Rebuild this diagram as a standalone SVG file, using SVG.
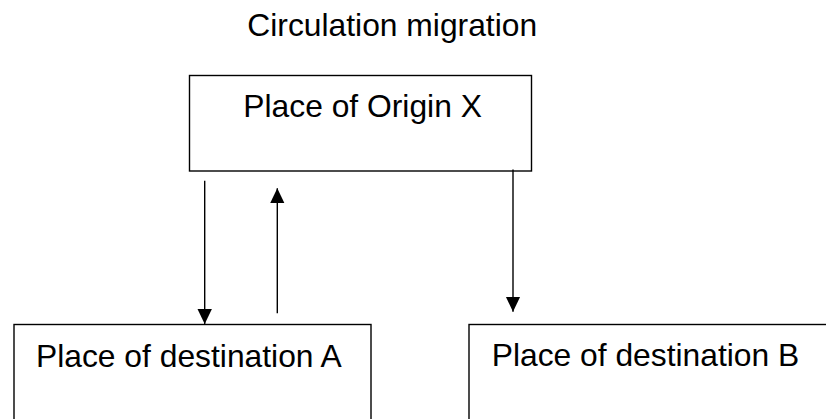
<svg xmlns="http://www.w3.org/2000/svg" width="826" height="419" viewBox="0 0 826 419">
  <style>
    .box { fill: #ffffff; stroke: #000000; stroke-width: 1.4; }
    .lbl { font-family: "Liberation Sans", Arial, sans-serif; font-size: 31.8px; fill: #000000; }
    .conn { stroke: #000000; stroke-width: 1.4; fill: none; }
  </style>
  <defs>
    <marker id="arrow" markerUnits="userSpaceOnUse" markerWidth="16" markerHeight="16" viewBox="0 0 16 16" refX="15" refY="8" orient="auto">
      <polygon points="0,0.8 15,8 0,15.2" fill="#000000"/>
    </marker>
  </defs>
  <rect width="826" height="419" fill="#ffffff"/>
  <text id="title" class="lbl" x="247.3" y="36">Circulation migration</text>
  <g id="origin">
    <rect class="box" x="189.5" y="75.5" width="342" height="95.5"/>
    <text class="lbl" x="243.3" y="116.7">Place of Origin X</text>
  </g>
  <g id="destA">
    <rect class="box" x="14" y="324.5" width="357" height="130"/>
    <text class="lbl" x="36" y="366.5">Place of destination A</text>
  </g>
  <g id="destB">
    <rect class="box" x="469" y="324.5" width="400" height="130"/>
    <text class="lbl" x="491.7" y="366">Place of destination B</text>
  </g>
  <g id="connectors">
    <line class="conn" x1="204.7" y1="180.7" x2="204.7" y2="324" marker-end="url(#arrow)"/>
    <line class="conn" x1="277.3" y1="313.3" x2="277.3" y2="188.3" marker-end="url(#arrow)"/>
    <line class="conn" x1="513" y1="169.5" x2="513" y2="311.7" marker-end="url(#arrow)"/>
  </g>
</svg>
